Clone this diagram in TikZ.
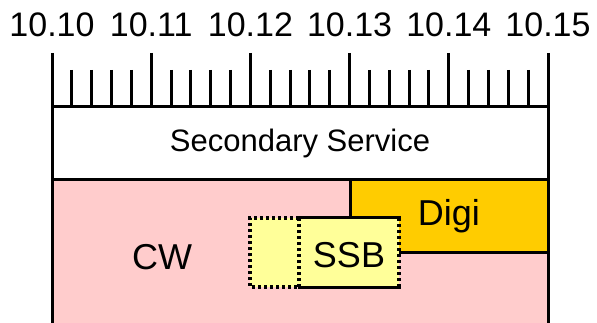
\documentclass[tikz,border=0pt]{standalone}
\usepackage{fontspec}
\setmainfont{Liberation Sans}
\definecolor{cwpink}{HTML}{FFCCCC}
\definecolor{digiorange}{HTML}{FFCC00}
\definecolor{ssbyellow}{HTML}{FFFF99}
\tikzset{
  thickline/.style={line width=3pt, line cap=rect},
  dotline/.style={line width=3.2pt, dash pattern=on 3pt off 3pt},
  band/.style={inner sep=0pt, outer sep=0pt, font=\fontsize{31}{31}\selectfont},
  lbl/.style={font=\fontsize{34}{34}\selectfont, inner sep=0pt},
  big/.style={font=\fontsize{36}{36}\selectfont, inner sep=0pt},
}
\begin{document}
\begin{tikzpicture}[x=1pt,y=-1pt]
\useasboundingbox (0,0) rectangle (597,323);
% CW area
\fill[cwpink] (52,180) rectangle (548,323);
\node[band, minimum width=496pt, minimum height=73pt, fill=white] (sec) at (300,143.5) {Secondary Service};
\node[band, minimum width=198pt, minimum height=72pt, fill=digiorange] (digi) at (449,216) {};
\node[big] (digitext) at (449,216) {Digi};
\draw[thickline] (350,180) -- (350,252) -- (548,252);
% dotted left part
\node[inner sep=0pt, outer sep=0pt, minimum width=49pt, minimum height=69pt, fill=ssbyellow] (ghost) at (274.5,252.5) {};
\node[inner sep=0pt, outer sep=0pt, minimum width=100pt, minimum height=69pt, fill=ssbyellow] (ssb) at (349,252.5) {};
\node[big] (ssbtext) at (349,255) {SSB};
\draw[thickline] (ssb.north west) -- (ssb.north east);
\draw[thickline] (ssb.south west) -- (ssb.south east);
\draw[dotline] (ssb.north east) -- (ssb.south east);
\draw[dotline] (ssb.north west) -- (ghost.north west) -- (ghost.south west) -- (ghost.south east);
\draw[dotline] (ssb.north west) -- (ssb.south west);
\node[big] (cw) at (162,257) {CW};
% frame lines
\draw[thickline] (52,107) -- (548,107);
\draw[thickline] (52,180) -- (548,180);
\draw[line width=3pt] (52,53) -- (52,323);
\draw[line width=3pt] (548,53) -- (548,323);
% ruler ticks
\foreach \i in {1,...,24}{
  \pgfmathsetmacro{\xx}{52+19.84*\i}
  \pgfmathtruncatemacro{\m}{mod(\i,5)}
  \ifnum\m=0
    \draw[line width=3pt] (\xx,53) -- (\xx,107);
  \else
    \draw[line width=3pt] (\xx,70) -- (\xx,107);
  \fi
}
% labels
\node[lbl] (l0) at (52,25) {10.10};
\node[lbl] (l1) at (151.2,25) {10.11};
\node[lbl] (l2) at (250.4,25) {10.12};
\node[lbl] (l3) at (349.6,25) {10.13};
\node[lbl] (l4) at (448.8,25) {10.14};
\node[lbl] (l5) at (548,25) {10.15};
\end{tikzpicture}
\end{document}
